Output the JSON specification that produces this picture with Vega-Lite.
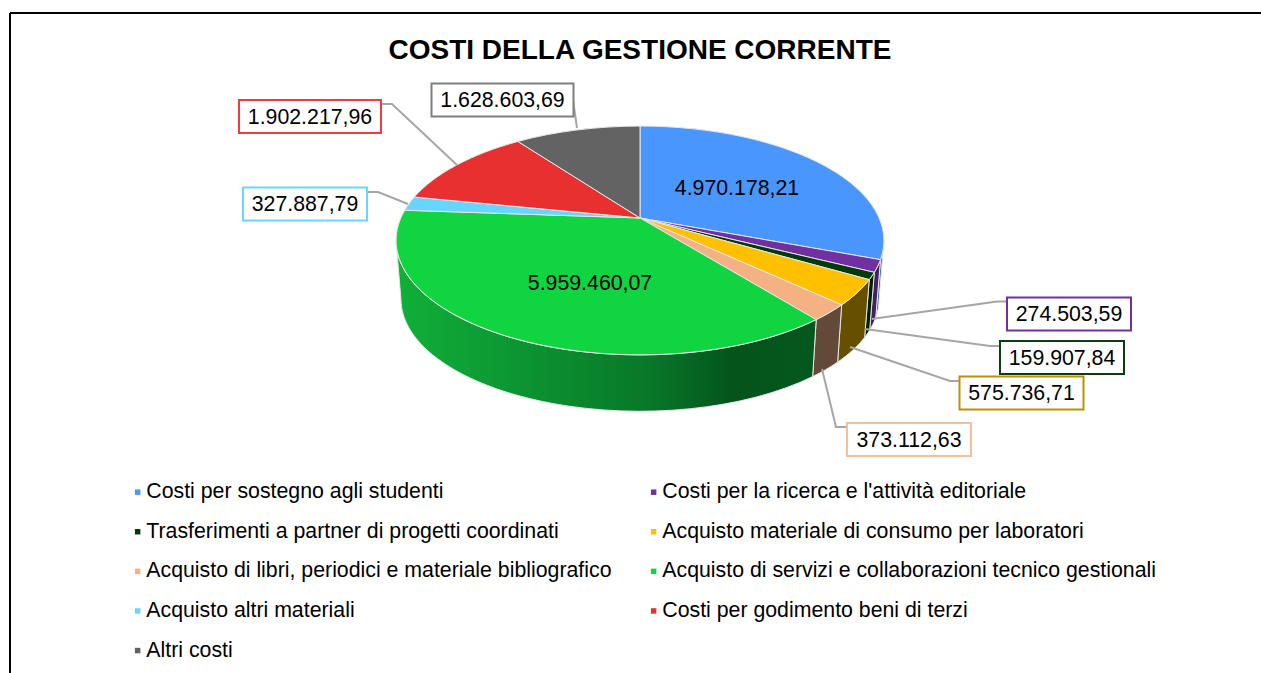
{
 "$schema":"https://vega.github.io/schema/vega-lite/v6.json",
 "width":1251,"height":660,
 "autosize":{"type":"none"},
 "padding":{"left":10,"top":13,"right":0,"bottom":0},
 "background":"white",
 "config":{"view":{"stroke":null},"font":"Liberation Sans"},
 "title":{"text":"COSTI DELLA GESTIONE CORRENTE","font":"Liberation Sans","fontSize":28,"fontWeight":"bold","color":"#000000","anchor":"middle","frame":"group","dx":4.5,"offset":-81,"baseline":"bottom"},
 "data":{"values":[
  {"ord":0,"categoria":"Costi per sostegno agli studenti","valore":4970178.21,"etichetta":"4.970.178,21"},
  {"ord":1,"categoria":"Costi per la ricerca e l'attività editoriale","valore":274503.59,"etichetta":"274.503,59"},
  {"ord":2,"categoria":"Trasferimenti a partner di progetti coordinati","valore":159907.84,"etichetta":"159.907,84"},
  {"ord":3,"categoria":"Acquisto materiale di consumo per laboratori","valore":575736.71,"etichetta":"575.736,71"},
  {"ord":4,"categoria":"Acquisto di libri, periodici e materiale bibliografico","valore":373112.63,"etichetta":"373.112,63"},
  {"ord":5,"categoria":"Acquisto di servizi e collaborazioni tecnico gestionali","valore":5959460.07,"etichetta":"5.959.460,07"},
  {"ord":6,"categoria":"Acquisto altri materiali","valore":327887.79,"etichetta":"327.887,79"},
  {"ord":7,"categoria":"Costi per godimento beni di terzi","valore":1902217.96,"etichetta":"1.902.217,96"},
  {"ord":8,"categoria":"Altri costi","valore":1628603.69,"etichetta":"1.628.603,69"}
 ]},
 "transform":[
  {"stack":"valore","groupby":[],"sort":[{"field":"ord","order":"ascending"}],"as":["v0","v1"]},
  {"joinaggregate":[{"op":"sum","field":"valore","as":"totale"}]},
  {"calculate":"2*PI*datum.v0/datum.totale","as":"a0"},
  {"calculate":"2*PI*datum.v1/datum.totale","as":"a1"},
  {"calculate":"round(100*239.2*sin(datum.a0)/(1+0.1965*cos(datum.a0)))/100","as":"p0x"},
  {"calculate":"round(-100*110*cos(datum.a0)/(1+0.1965*cos(datum.a0)))/100","as":"p0y"},
  {"calculate":"round(100*239.2*sin(datum.a1)/(1+0.1965*cos(datum.a1)))/100","as":"p1x"},
  {"calculate":"round(-100*110*cos(datum.a1)/(1+0.1965*cos(datum.a1)))/100","as":"p1y"},
  {"calculate":"'M0 0L'+datum.p0x+' '+datum.p0y+'A244 114.5 0 0 1 '+datum.p1x+' '+datum.p1y+'Z'","as":"fetta"},
  {"calculate":"max(datum.a0,1.768)","as":"c0"},
  {"calculate":"min(datum.a1,4.515)","as":"c1"},
  {"calculate":"round(100*239.2*sin(datum.c0)/(1+0.1965*cos(datum.c0)))/100","as":"q0x"},
  {"calculate":"round(-100*110*cos(datum.c0)/(1+0.1965*cos(datum.c0)))/100","as":"q0y"},
  {"calculate":"round(100*239.2*sin(datum.c1)/(1+0.1965*cos(datum.c1)))/100","as":"q1x"},
  {"calculate":"round(-100*110*cos(datum.c1)/(1+0.1965*cos(datum.c1)))/100","as":"q1y"},
  {"calculate":"'M'+datum.q0x+' '+datum.q0y+'A244 114.5 0 0 1 '+datum.q1x+' '+datum.q1y+'L'+(0.98*datum.q1x)+' '+(0.98*datum.q1y+59)+'A239 112.2 0 0 0 '+(0.98*datum.q0x)+' '+(0.98*datum.q0y+59)+'Z'","as":"parete"},
  {"calculate":"['','M231.7 101L357 83.5L367 83.5','M225 111L350 128L360 128','M210 129L310 163L320 163','M182 151L196 209L207 209','','M-232 -14L-262 -26L-273 -26','M-183 -53L-248 -114L-259 -114','M-63 -90L-67 -118'][datum.ord]","as":"guida"},
  {"calculate":"[737,1069,1062,1021.5,909,590,305,310,502.5][datum.ord]","as":"lx"},
  {"calculate":"[188,314,357.5,393,439.5,283,204,116.5,100][datum.ord]","as":"ly"},
  {"calculate":"[0,62,62,62,62,0,62,71,71][datum.ord]","as":"mezza"},
  {"calculate":"datum.lx-datum.mezza","as":"bx0"},
  {"calculate":"datum.lx+datum.mezza","as":"bx1"},
  {"calculate":"datum.ly-16.5","as":"by0"},
  {"calculate":"datum.ly+16.5","as":"by1"},
  {"calculate":"datum.ly+1","as":"ty"}
 ],
 "layer":[
  {"data":{"values":[{}]},"transform":[],"mark":{"type":"rule","color":"#000000","strokeWidth":2},
   "encoding":{"y":{"datum":13,"type":"quantitative","scale":{"domain":[13,673],"reverse":true,"nice":false,"zero":false},"axis":null}}},
  {"data":{"values":[{}]},"transform":[],"mark":{"type":"rule","color":"#000000","strokeWidth":2},
   "encoding":{"x":{"datum":10,"type":"quantitative","scale":{"domain":[10,1261],"nice":false,"zero":false},"axis":null}}},
  {"transform":[{"filter":"datum.a1>1.768 && datum.a0<4.515 && datum.ord!=5"}],
   "mark":{"type":"point","filled":true,"size":4,"stroke":"#e6e6e6","strokeWidth":1,"opacity":1},
   "encoding":{
    "x":{"datum":640,"type":"quantitative","axis":null},
    "y":{"datum":218,"type":"quantitative","axis":null},
    "shape":{"field":"parete","type":"nominal","scale":null,"legend":null},
    "fill":{"field":"ord","type":"nominal","legend":null,"scale":{"domain":[0,1,2,3,4],"range":["#2b5a99","#43205f","#001f00","#665000","#634a38"]}}
   }},
  {"transform":[{"filter":"datum.ord==5"}],
   "mark":{"type":"point","filled":true,"size":4,"stroke":"#e6e6e6","strokeWidth":1,"opacity":1,
    "fill":{"gradient":"linear","x1":0,"y1":0,"x2":1,"y2":0,"stops":[{"offset":0,"color":"#10b038"},{"offset":0.3,"color":"#0c9432"},{"offset":0.6,"color":"#087828"},{"offset":0.8,"color":"#04541c"},{"offset":1,"color":"#04581e"}]}},
   "encoding":{
    "x":{"datum":640,"type":"quantitative","axis":null},
    "y":{"datum":218,"type":"quantitative","axis":null},
    "shape":{"field":"parete","type":"nominal","scale":null,"legend":null}
   }},
  {"mark":{"type":"point","filled":true,"size":4,"stroke":"#e6e6e6","strokeWidth":1,"opacity":1},
   "encoding":{
    "x":{"datum":640,"type":"quantitative","axis":null},
    "y":{"datum":218,"type":"quantitative","axis":null},
    "shape":{"field":"fetta","type":"nominal","scale":null,"legend":null},
    "color":{"field":"categoria","type":"nominal",
     "scale":{"domain":["Costi per sostegno agli studenti","Costi per la ricerca e l'attività editoriale","Trasferimenti a partner di progetti coordinati","Acquisto materiale di consumo per laboratori","Acquisto di libri, periodici e materiale bibliografico","Acquisto di servizi e collaborazioni tecnico gestionali","Acquisto altri materiali","Costi per godimento beni di terzi","Altri costi"],
      "range":["#4a96ff","#7030a0","#033a0a","#ffc000","#f4b183","#10d440","#66d5ff","#e83030","#636363"]},
     "legend":{"title":null,"orient":"none","direction":"horizontal","legendX":117,"legendY":468.5,"columns":2,"symbolType":"square","symbolSize":30,"symbolStrokeWidth":0,"labelFont":"Liberation Sans","labelFontSize":21.3,"labelColor":"#000000","labelLimit":700,"labelOffset":-2,"rowPadding":17.6,"columnPadding":31,"gridAlign":"each"}}
   }},
  {"transform":[{"filter":"datum.ord!=0 && datum.ord!=5"}],
   "mark":{"type":"point","filled":false,"size":4,"stroke":"#a6a6a6","strokeWidth":2,"opacity":1},
   "encoding":{
    "x":{"datum":640,"type":"quantitative","axis":null},
    "y":{"datum":218,"type":"quantitative","axis":null},
    "shape":{"field":"guida","type":"nominal","scale":null,"legend":null}
   }},
  {"transform":[{"filter":"datum.ord!=0 && datum.ord!=5"}],
   "mark":{"type":"rect","fill":"#ffffff","strokeWidth":2},
   "encoding":{
    "x":{"field":"bx0","type":"quantitative","axis":null},
    "x2":{"field":"bx1"},
    "y":{"field":"by0","type":"quantitative","axis":null},
    "y2":{"field":"by1"},
    "stroke":{"field":"ord","type":"nominal","legend":null,"scale":{"domain":[1,2,3,4,6,7,8],"range":["#7030a0","#0a3d0f","#bf9000","#f8bd9a","#66d5ff","#f03c3c","#7f7f7f"]}}
   }},
  {"mark":{"type":"text","font":"Liberation Sans","fontSize":21.3,"color":"#000000","baseline":"middle","align":"center"},
   "encoding":{
    "x":{"field":"lx","type":"quantitative","axis":null},
    "y":{"field":"ty","type":"quantitative","axis":null},
    "text":{"field":"etichetta"}
   }}
 ]
}
